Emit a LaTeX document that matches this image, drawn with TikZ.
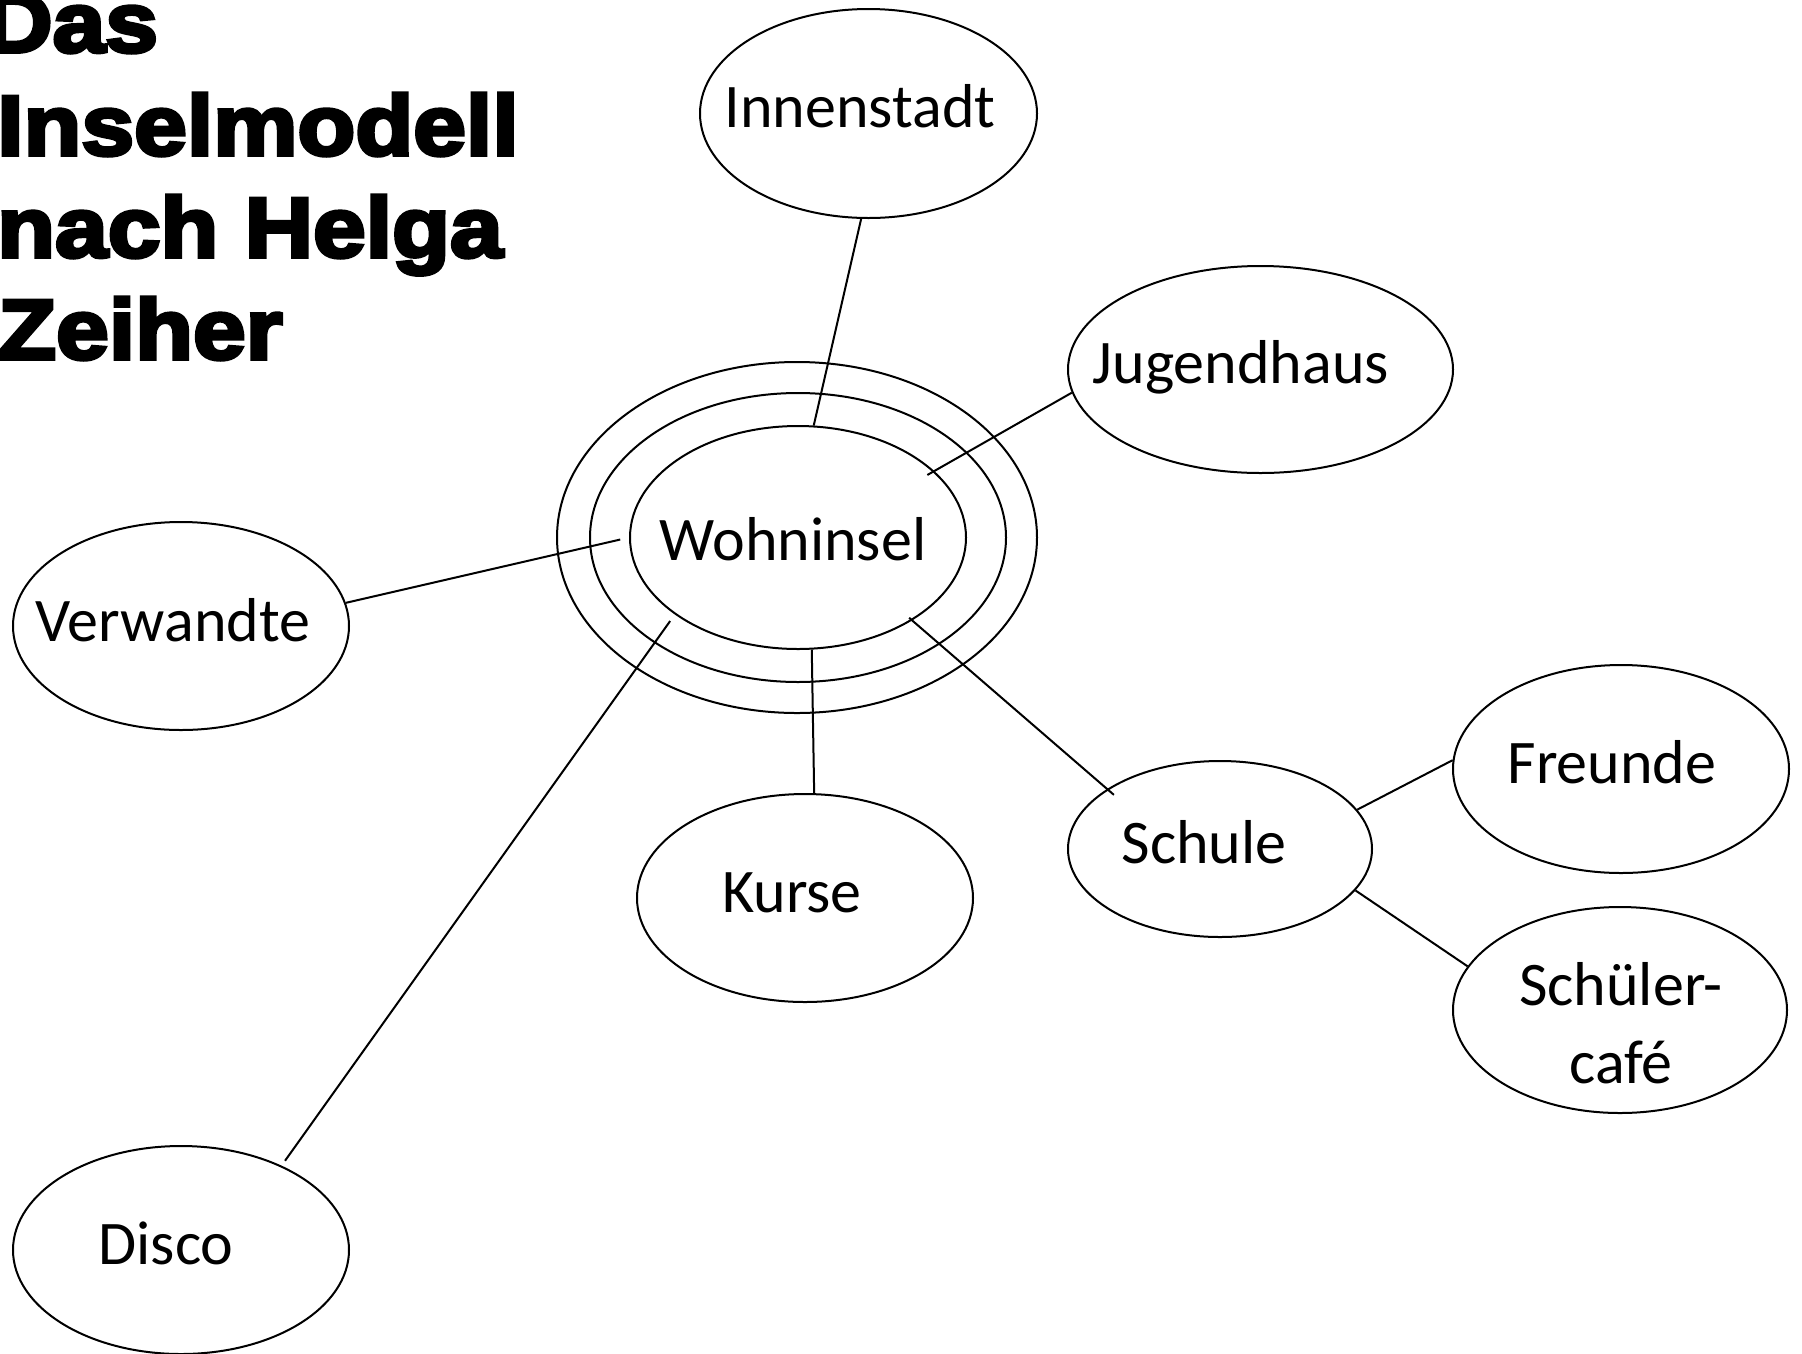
\documentclass[tikz,border=0pt]{standalone}
\usepackage{fontspec}
\setmainfont{Carlito}
\newfontfamily\titlefont{Liberation Sans Bold}[FakeBold=4.5,FakeStretch=1.115]
\usetikzlibrary{shapes.geometric}
\tikzset{
  isle/.style={draw, ellipse, line width=2pt, inner sep=0pt},
  lbl/.style={anchor=base, inner sep=0pt, font=\fontsize{62}{78}\selectfont, align=center},
  ttl/.style={anchor=base west, inner sep=0pt, font=\titlefont\fontsize{85}{102}\selectfont},
  conn/.style={line width=2pt}
}
\begin{document}
\begin{tikzpicture}[x=1pt,y=-1pt]
\useasboundingbox[fill=white] (0,0) rectangle (1802,1353);
% title
\node[ttl] (t1) at (-16,52) {Das};
\node[ttl] (t2) at (-3,155) {Inselmodell};
\node[ttl] (t3) at (-3,257) {nach Helga};
\node[ttl] (t4) at (-2,359) {Zeiher};
% islands
\node[isle, minimum width=337pt, minimum height=209pt] (inn) at (868.5,113.5) {};
\node[isle, minimum width=385pt, minimum height=207pt] (jug) at (1260.5,369.5) {};
\node[isle, minimum width=336pt, minimum height=223pt] (w) at (798,537.5) {};
\node[isle, minimum width=416pt, minimum height=289pt] (w2) at (798,537.5) {};
\node[isle, minimum width=480pt, minimum height=351pt] (w3) at (797,537.5) {};
\node[isle, minimum width=336pt, minimum height=208pt] (verw) at (181,626) {};
\node[isle, minimum width=336pt, minimum height=208pt] (kurse) at (805,898) {};
\node[isle, minimum width=304pt, minimum height=176pt] (schule) at (1220,849) {};
\node[isle, minimum width=336pt, minimum height=208pt] (freunde) at (1621,769) {};
\node[isle, minimum width=334pt, minimum height=206pt] (cafe) at (1620,1010) {};
\node[isle, minimum width=336pt, minimum height=208pt] (disco) at (181,1250) {};
% labels
\node[lbl] (linn) at (860,127) {Innenstadt};
\node[lbl] (ljug) at (1241,383) {Jugendhaus};
\node[lbl] (lw) at (793,560) {Wohninsel};
\node[lbl] (lverw) at (173,641) {Verwandte};
\node[lbl] (lkurse) at (792,912) {Kurse};
\node[lbl] (lschule) at (1204,863) {Schule};
\node[lbl] (lfreunde) at (1612,783) {Freunde};
\node[lbl] (lcafe) at (1621,1083) {Schüler-\\café};
\node[lbl] (ldisco) at (166,1264) {Disco};
% connectors
\draw[conn] (inn.266.4) -- (w.82.3);
\draw[conn, shorten <=-8pt] (w.26.6) -- (jug.187);
\draw[conn, shorten >=9pt] (verw.8.5) -- (w.180);
\draw[conn, shorten <=6pt, shorten >=8pt] (disco.40.2) -- (w.212);
\draw[conn] (w.277.7) -- (kurse.85.6);
\draw[conn, shorten <=-4pt, shorten >=-9pt] (w.324.4) -- (schule.152.1);
\draw[conn] (schule.16.3) -- (freunde.177.6);
\draw[conn] (schule.343.7) -- (cafe.164.6);
\end{tikzpicture}
\end{document}
